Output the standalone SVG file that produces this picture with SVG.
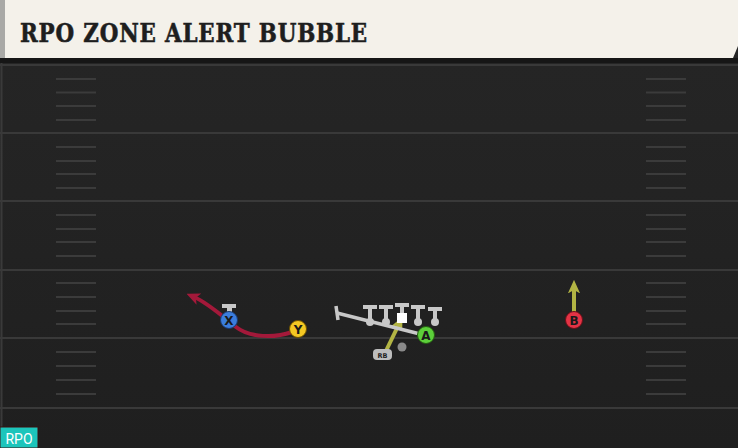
<svg xmlns="http://www.w3.org/2000/svg" width="738" height="448" viewBox="0 0 738 448">
<defs>
<linearGradient id="field" x1="0" y1="0" x2="0" y2="1">
<stop offset="0" stop-color="#262626"/>
<stop offset="1" stop-color="#1f1f1f"/>
</linearGradient>
<marker id="arrRed" viewBox="0 0 10 10" refX="4" refY="5" markerWidth="3.4" markerHeight="3.4" orient="auto" markerUnits="strokeWidth"><path d="M0,0.5 L10,5 L0,9.5 L2.5,5 Z" fill="#a3193a"/></marker>
<marker id="arrOl" viewBox="0 0 10 10" refX="4" refY="5" markerWidth="3.4" markerHeight="3.4" orient="auto" markerUnits="strokeWidth"><path d="M0,0.5 L10,5 L0,9.5 L2.5,5 Z" fill="#b3b544"/></marker>
</defs>
<style>
.yl{stroke:#393939;stroke-width:2}
.hs{stroke:#3b3b3b;stroke-width:2}
.lab{font-family:"DejaVu Sans","Liberation Sans",sans-serif;font-weight:bold;text-anchor:middle;fill:#1a1a1a}
.gr{fill:#c8c8c8}
</style>
<rect width="738" height="448" fill="url(#field)"/>
<line x1="1.5" y1="62" x2="1.5" y2="448" stroke="#3a3a3a" stroke-width="2"/>
<g id="yardlines">
<line class="yl" x1="0" y1="65" x2="738" y2="65"/>
<line class="yl" x1="0" y1="133" x2="738" y2="133"/>
<line class="yl" x1="0" y1="201" x2="738" y2="201"/>
<line class="yl" x1="0" y1="270" x2="738" y2="270"/>
<line class="yl" x1="0" y1="338" x2="738" y2="338"/>
<line class="yl" x1="0" y1="408" x2="738" y2="408"/>
</g>
<g id="hashes">
<path class="hs" d="M56,79H96M56,92.5H96M56,106H96M56,120H96M56,147H96M56,161H96M56,174H96M56,188H96M56,215H96M56,229H96M56,242H96M56,256H96M56,283H96M56,297H96M56,311H96M56,324H96M56,352H96M56,366H96M56,380H96M56,394H96"/>
<path class="hs" d="M646,79H686M646,92.5H686M646,106H686M646,120H686M646,147H686M646,161H686M646,174H686M646,188H686M646,215H686M646,229H686M646,242H686M646,256H686M646,283H686M646,297H686M646,311H686M646,324H686M646,352H686M646,366H686M646,380H686M646,394H686"/>
</g>
<g id="title">
<rect x="0" y="58" width="738" height="5" fill="#161616"/>
<path d="M0,0 H738 V46 L733,58 H0 Z" fill="#f4f1ea"/>
<rect x="0" y="0" width="5" height="58" fill="#a9a9a6"/>
<text x="20" y="42" font-family="'DejaVu Serif','Liberation Serif',serif" font-weight="900" font-size="26" letter-spacing="1" textLength="348" lengthAdjust="spacingAndGlyphs" fill="#1e1e1e" stroke="#1e1e1e" stroke-width="0.6">RPO ZONE ALERT BUBBLE</text>
</g>
<g id="connectors">
<path d="M292,332 C275,338 250,338 236,327 C222,316 208,303 194,297" fill="none" stroke="#a3193a" stroke-width="4" marker-end="url(#arrRed)"/>
<path d="M384,355 L399,324" fill="none" stroke="#b3b544" stroke-width="4" marker-end="url(#arrOl)"/>
<path d="M574,312 L574,288" fill="none" stroke="#b3b544" stroke-width="4" marker-end="url(#arrOl)"/>
<path d="M337,313 L420,334" fill="none" stroke="#c8c8c8" stroke-width="3.5"/>
<path d="M336,306 L338,320" fill="none" stroke="#c8c8c8" stroke-width="3.5"/>
</g>
<g id="lineman1"><rect class="gr" x="363" y="305" width="14" height="4"/><rect class="gr" x="368" y="306" width="4" height="14"/><circle class="gr" cx="370" cy="322" r="4"/></g>
<g id="lineman2"><rect class="gr" x="379" y="305" width="14" height="4"/><rect class="gr" x="384" y="306" width="4" height="14"/><circle class="gr" cx="386" cy="322" r="4"/></g>
<g id="center"><rect class="gr" x="395" y="303" width="14" height="4"/><rect class="gr" x="400" y="304" width="4" height="10"/><rect x="397" y="313" width="10" height="10" fill="#ffffff"/></g>
<g id="lineman4"><rect class="gr" x="411" y="305" width="14" height="4"/><rect class="gr" x="416" y="306" width="4" height="14"/><circle class="gr" cx="418" cy="322" r="4"/></g>
<g id="lineman5"><rect class="gr" x="428" y="307" width="14" height="4"/><rect class="gr" x="433" y="308" width="4" height="13"/><circle class="gr" cx="435" cy="322" r="4"/></g>
<g id="qb"><circle cx="402" cy="347" r="4.5" fill="#8a8a8a"/></g>
<g id="rb"><rect x="373" y="349" width="19" height="11" rx="4" fill="#bdbdbd"/><text x="382.5" y="357.5" font-family="'DejaVu Sans','Liberation Sans',sans-serif" font-size="6.5" font-weight="bold" text-anchor="middle" fill="#222">RB</text></g>
<g id="X"><rect x="222" y="304" width="14" height="4" fill="#c8c8c8"/><rect x="227" y="307" width="5" height="6" fill="#c8c8c8"/><circle cx="229" cy="320" r="8.5" fill="#3b7ddd" stroke="#1a3a70" stroke-width="1"/><text class="lab" x="229" y="324.5" font-size="12">X</text></g>
<g id="Y"><circle cx="298" cy="329" r="8.5" fill="#f4c823" stroke="#6b5000" stroke-width="1"/><text class="lab" x="298" y="333.5" font-size="12">Y</text></g>
<g id="A"><circle cx="426" cy="335" r="8.5" fill="#5ccf3a" stroke="#245d10" stroke-width="1"/><text class="lab" x="426" y="339.5" font-size="12">A</text></g>
<g id="B"><circle cx="574" cy="320" r="8.5" fill="#e33345" stroke="#6a0f18" stroke-width="1"/><text class="lab" x="574" y="324.5" font-size="12">B</text></g>
<g id="rpo-tag"><rect x="0" y="427" width="38" height="21" fill="#1cc5bb" stroke="#3a1010" stroke-width="1"/><text x="19" y="444" font-family="Roboto,'Noto Sans',sans-serif" font-size="14" text-anchor="middle" fill="#ffffff">RPO</text></g>
</svg>
